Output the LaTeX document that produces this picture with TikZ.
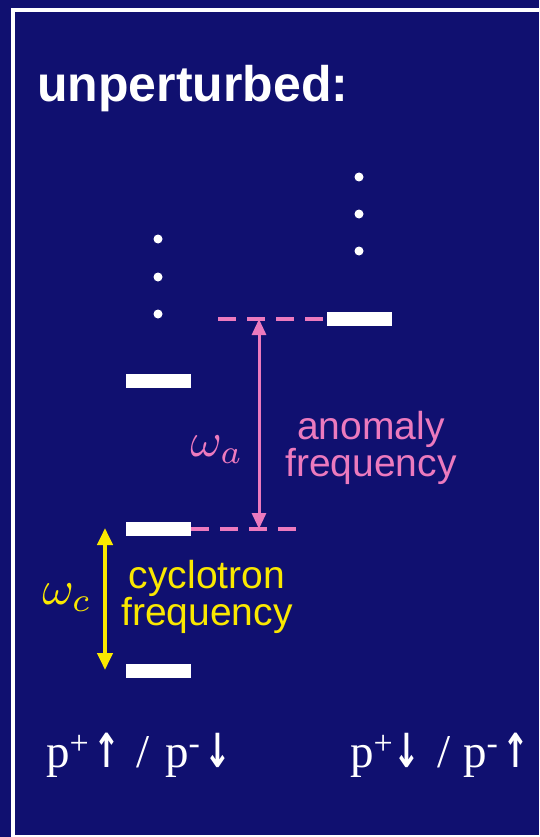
\documentclass[tikz,border=0pt]{standalone}
\usepackage{graphicx}
\usepackage{fontspec}
\setmainfont{Liberation Serif}
\newfontfamily\lsans{Liberation Sans}
\newfontfamily\arrowfont{DejaVu Sans}
\usetikzlibrary{arrows.meta}
\definecolor{bgblue}{RGB}{16,16,112}
\definecolor{lvlpink}{RGB}{236,122,190}
\definecolor{lvlyellow}{RGB}{250,232,0}
\newcommand{\supsym}[1]{\raisebox{13pt}{\fontsize{34}{34}\selectfont #1}}
\newcommand{\bigmath}[1]{\scalebox{4.8}{$#1$}}
\newcommand{\uparr}{\scalebox{0.68}[1]{\arrowfont\bfseries ↑}}
\newcommand{\downarr}{\scalebox{0.68}[1]{\arrowfont\bfseries ↓}}
\begin{document}
\begin{tikzpicture}[x=1pt,y=-1pt,
  bar/.style={fill=white, minimum width=65pt, minimum height=14pt, inner sep=0pt, draw=none},
  dot/.style={circle, fill=white, minimum size=9pt, inner sep=0pt},
  pinkdash/.style={lvlpink, line width=3.5pt, dash pattern=on 18pt off 11pt},
  pinkarrow/.style={lvlpink, line width=3pt, {Triangle[width=14pt,length=16pt]}-{Triangle[width=14pt,length=16pt]}},
  yelarrow/.style={lvlyellow, line width=4pt, {Triangle[width=15pt,length=17pt]}-{Triangle[width=15pt,length=17pt]}},
  lab/.style={inner sep=0pt, font=\lsans\fontsize{39}{35}\selectfont, align=center},
  omega/.style={inner sep=0pt, font=\normalsize},
  spinlab/.style={inner sep=0pt, anchor=base west, text=white, font=\fontsize{47}{50}\selectfont}
]
\fill[bgblue] (0,0) rectangle (539,837);
\useasboundingbox (0,0) rectangle (539,837);
\draw[white, line width=4pt] (13,836.5) rectangle (580,10.5);

\node[anchor=base west, inner sep=0pt, text=white, font=\lsans\bfseries\fontsize{50}{58}\selectfont] (title) at (37,102) {unperturbed:};

% levels
\node[bar] (l0) at (158.5,671) {};
\node[bar] (l1) at (158.5,529) {};
\node[bar] (l2) at (158.5,381) {};
\node[bar] (r0) at (359,319) {};

% dots
\node[dot] (dl1) at (158,314) {};
\node[dot] (dl2) at (158,277) {};
\node[dot] (dl3) at (158,239) {};
\node[dot] (dr1) at (359,251) {};
\node[dot] (dr2) at (359,214) {};
\node[dot] (dr3) at (359,177) {};

% dashed reference lines
\coordinate (dashend) at (298,529);
\coordinate (dashstart) at (218,319);
\draw[pinkdash] (l1.east) -- (dashend);
\draw[pinkdash] (dashstart) -- (r0.west);

% anomaly arrow
\coordinate (a1) at (259,319);
\coordinate (a2) at (259,529);
\draw[pinkarrow] (a1) -- (a2);
\node[omega, text=lvlpink] (wa) at (217,450) {\bigmath{\omega_a}};
\node[lab, text=lvlpink] (anom) at (371,448) {anomaly\\frequency};

% cyclotron arrow
\coordinate (c1) at (105,528);
\coordinate (c2) at (105,670);
\draw[yelarrow] (c1) -- (c2);
\node[omega, text=lvlyellow] (wc) at (67,598) {\bigmath{\omega_c}};
\node[lab, text=lvlyellow] (cyc) at (207,597) {cyclotron\\frequency};

% spin labels
\node[spinlab] (sl) at (46,767) {p\supsym{+}\hspace{5pt}\uparr\hspace{4pt} / \hspace{4pt}p\supsym{-}\hspace{4pt}\downarr};
\node[spinlab] (sr) at (350,767) {p\supsym{+}\hspace{1pt}\downarr\hspace{5pt} / \hspace{1pt}p\supsym{-}\hspace{4pt}\uparr};
\end{tikzpicture}
\end{document}
